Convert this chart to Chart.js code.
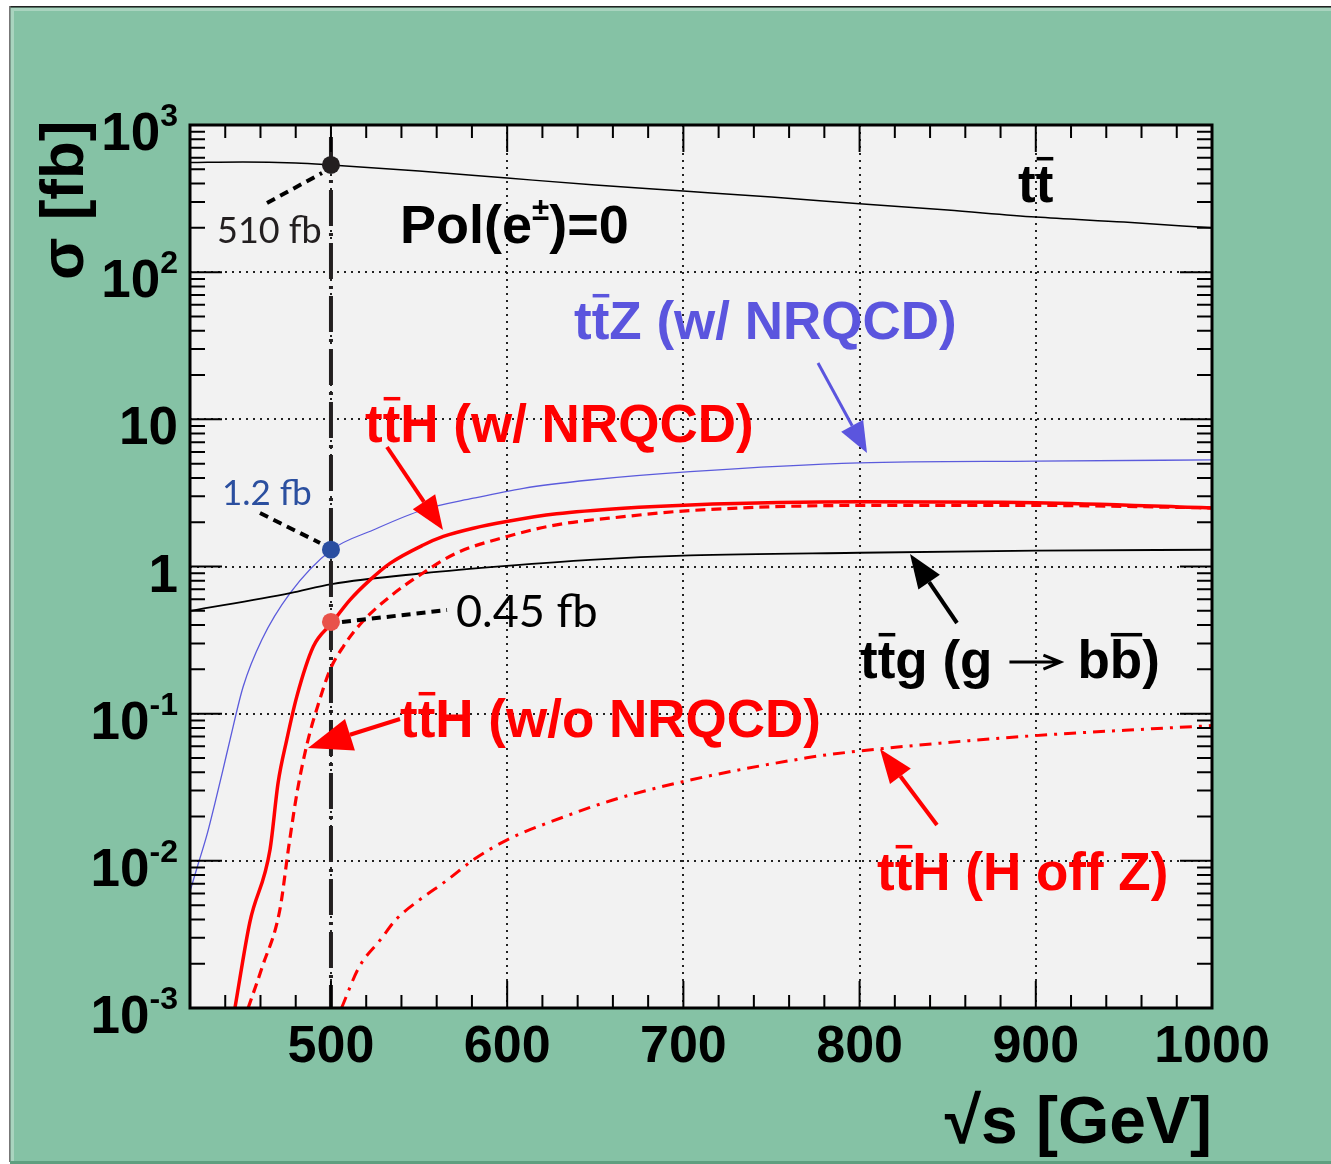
<!DOCTYPE html>
<html>
<head>
<meta charset="utf-8">
<script src="https://cdn.jsdelivr.net/npm/chart.js@4.4.0/dist/chart.umd.min.js"></script>
<style>
  html, body { margin: 0; padding: 0; background: #ffffff; }
  canvas { display: block; }
</style>
</head>
<body>
<canvas id="xsecChart" width="1331" height="1164"></canvas>
<script>
// sqrt(s) [GeV] and cross sections [fb]
const ttEnergy = [420, 450, 480, 500, 550, 600, 650, 700, 750, 800, 850, 900, 950, 1000];
const ttXsec = [556, 561, 552, 535, 487, 436, 391, 356, 324, 292, 264, 237, 219, 200];

const ttzEnergy = [420, 424.5, 429.6, 434.2, 438.7, 442.7, 450.2, 460.7, 476.8, 500.4, 524, 552.4, 580.8, 609.2, 647, 703.8, 800, 900, 1000];
const ttzXsec = [0.0062, 0.0094, 0.015, 0.0248, 0.0415, 0.0664, 0.153, 0.317, 0.659, 1.30, 1.77, 2.43, 2.91, 3.40, 3.87, 4.41, 5.06, 5.2, 5.3];

const tthEnergy = [445.5, 454, 465.4, 470, 474.9, 480.6, 490, 500.4, 510.8, 522.2, 533.5, 552.4, 563.8, 580.8, 599.7, 628.1, 665.9, 703.8, 800, 900, 1000];
const tthXsec = [0.001, 0.00385, 0.0119, 0.0339, 0.0664, 0.1306, 0.286, 0.412, 0.593, 0.811, 1.05, 1.40, 1.60, 1.82, 2.02, 2.28, 2.49, 2.62, 2.75, 2.71, 2.50];

const tthNoNrqcdEnergy = [453, 461, 471, 476, 481, 487, 493, 499.5, 507, 518, 533.5, 552, 571, 600, 628, 666, 704, 800, 900, 1000];
const tthNoNrqcdXsec = [0.001, 0.0019, 0.00465, 0.0124, 0.0303, 0.0664, 0.118, 0.199, 0.286, 0.423, 0.625, 0.90, 1.23, 1.60, 1.92, 2.18, 2.40, 2.60, 2.60, 2.50];

const tthOffZEnergy = [506, 516, 528, 537, 550, 566, 581, 600, 623, 670, 770, 812, 898, 1000];
const tthOffZXsec = [0.001, 0.0019, 0.0029, 0.0040, 0.0054, 0.0074, 0.0102, 0.0139, 0.0181, 0.0281, 0.0501, 0.0577, 0.0707, 0.083];

const ttgEnergy = [420, 476.8, 500.4, 552.4, 599.7, 647, 703.8, 800, 900, 1000];
const ttgXsec = [0.50, 0.66, 0.76, 0.90, 1.01, 1.11, 1.19, 1.24, 1.28, 1.30];

// highlighted working point at 500 GeV (tt, ttZ, ttH)
const markerEnergy = 500;
const markerXsec = [535, 1.3, 0.42];
const markerSpan = [830, 0.001];

const xMajorTicks = [500, 600, 700, 800, 900, 1000];
const yDecades = [0.001, 0.01, 0.1, 1, 10, 100, 1000];
const yTickLabels = [['10', '-3'], ['10', '-2'], ['10', '-1'], ['1', ''], ['10', ''], ['10', '2'], ['10', '3']];

const toPoints = (xs, ys) => xs.map((x, i) => ({ x: x, y: ys[i] }));

const BOLD = '"Liberation Sans", Arial, Helvetica, sans-serif';
const THIN = 'Lato, "Open Sans", sans-serif';
const RED = '#ff0000';
const BLUE = '#5b55de';
const INK = '#231f20';

// text with optional overbar / superscript / arrow pieces
function drawRich(ctx, x, y, parts, size, color) {
    let cx = x;
    ctx.fillStyle = color;
    ctx.strokeStyle = color;
    ctx.textAlign = 'left';
    ctx.textBaseline = 'alphabetic';
    parts.forEach(p => {
        if (p.arrow) {
            const ay = y - size * 0.3;
            ctx.lineWidth = 3;
            ctx.beginPath();
            ctx.moveTo(cx + p.pad, ay);
            ctx.lineTo(cx + p.arrow - p.pad, ay);
            ctx.moveTo(cx + p.arrow - p.pad - 17, ay - 7);
            ctx.lineTo(cx + p.arrow - p.pad, ay);
            ctx.lineTo(cx + p.arrow - p.pad - 17, ay + 7);
            ctx.stroke();
            cx += p.arrow;
            return;
        }
        const fs = p.sup ? size * 0.58 : size;
        ctx.font = 'bold ' + fs + 'px ' + BOLD;
        const w = ctx.measureText(p.t).width;
        ctx.fillText(p.t, cx, p.sup ? y - size * 0.42 : y);
        if (p.bar) ctx.fillRect(cx + 1, y - size * 0.85, w - 1, 3.5);
        cx += w;
    });
}

function arrow(ctx, x1, y1, x2, y2, color, lw, headLen, headW) {
    const a = Math.atan2(y2 - y1, x2 - x1);
    const bx = x2 - headLen * Math.cos(a);
    const by = y2 - headLen * Math.sin(a);
    ctx.strokeStyle = color;
    ctx.fillStyle = color;
    ctx.lineWidth = lw;
    ctx.setLineDash([]);
    ctx.beginPath();
    ctx.moveTo(x1, y1);
    ctx.lineTo(bx, by);
    ctx.stroke();
    ctx.beginPath();
    ctx.moveTo(x2, y2);
    ctx.lineTo(bx + headW / 2 * Math.sin(a), by - headW / 2 * Math.cos(a));
    ctx.lineTo(bx - headW / 2 * Math.sin(a), by + headW / 2 * Math.cos(a));
    ctx.closePath();
    ctx.fill();
}

function dashedLeader(ctx, x1, y1, x2, y2) {
    ctx.strokeStyle = '#000';
    ctx.lineWidth = 4;
    ctx.setLineDash([9, 6]);
    ctx.beginPath();
    ctx.moveTo(x1, y1);
    ctx.lineTo(x2, y2);
    ctx.stroke();
    ctx.setLineDash([]);
}

const framePlugin = {
    id: 'frame',
    beforeDraw(chart) {
        const ctx = chart.ctx;
        const a = chart.chartArea;
        ctx.save();
        ctx.fillStyle = '#ffffff';
        ctx.fillRect(0, 0, chart.width, chart.height);
        ctx.fillStyle = '#85c2a5';
        ctx.fillRect(10, 7, chart.width - 10, chart.height - 9);
        ctx.fillStyle = '#a9d4bf';
        ctx.fillRect(11, 8, chart.width - 11, 3);
        ctx.fillRect(11, 8, 3, chart.height - 10);
        ctx.fillStyle = '#222';
        ctx.fillRect(10, 6, chart.width - 10, 1.5);
        ctx.fillStyle = '#777';
        ctx.fillRect(9, 6, 1.5, chart.height - 8);
        ctx.fillStyle = '#5e9f7f';
        ctx.fillRect(10, chart.height - 3, chart.width - 10, 3);
        ctx.fillStyle = '#f2f2f2';
        ctx.fillRect(a.left, a.top, a.right - a.left, a.bottom - a.top);
        ctx.restore();
    },
    afterDatasetsDraw(chart) {
        const ctx = chart.ctx;
        const a = chart.chartArea;
        const xs = chart.scales.x;
        const ys = chart.scales.y;
        ctx.save();

        // ticks on all four sides
        ctx.strokeStyle = '#000';
        ctx.lineWidth = 2;
        ctx.beginPath();
        for (let e = 440; e <= 1000; e += 20) {
            const px = xs.getPixelForValue(e);
            const len = e % 100 === 0 ? 27 : 13;
            ctx.moveTo(px, a.bottom); ctx.lineTo(px, a.bottom - len);
            ctx.moveTo(px, a.top); ctx.lineTo(px, a.top + len);
        }
        yDecades.forEach(d => {
            for (let k = 1; k <= 9; k++) {
                const v = d * k;
                if (v > 1000) break;
                const py = ys.getPixelForValue(v);
                const len = k === 1 ? 32 : 15;
                ctx.moveTo(a.left, py); ctx.lineTo(a.left + len, py);
                ctx.moveTo(a.right, py); ctx.lineTo(a.right - len, py);
            }
        });
        ctx.stroke();

        // frame
        ctx.lineWidth = 3;
        ctx.strokeRect(a.left, a.top, a.right - a.left, a.bottom - a.top);

        // x tick labels
        ctx.fillStyle = '#000';
        ctx.font = 'bold 52px ' + BOLD;
        ctx.textAlign = 'center';
        ctx.textBaseline = 'alphabetic';
        xMajorTicks.forEach(v => ctx.fillText(String(v), xs.getPixelForValue(v), 1062));

        // y tick labels with superscript exponents
        yDecades.forEach((v, i) => {
            const py = ys.getPixelForValue(v);
            const [base, exp] = yTickLabels[i];
            ctx.textAlign = 'left';
            ctx.font = 'bold 32px ' + BOLD;
            const we = exp ? ctx.measureText(exp).width : 0;
            ctx.font = 'bold 53px ' + BOLD;
            const wb = ctx.measureText(base).width;
            const right = 178;
            ctx.fillText(base, right - we - wb, py + 25);
            if (exp) {
                ctx.font = 'bold 32px ' + BOLD;
                ctx.fillText(exp, right - we, py + 1);
            }
        });

        // axis titles
        ctx.font = 'bold 66px ' + BOLD;
        ctx.textAlign = 'right';
        ctx.fillText('\u221As [GeV]', a.right, 1143);
        ctx.save();
        ctx.translate(83, 280);
        ctx.rotate(-Math.PI / 2);
        ctx.textAlign = 'left';
        ctx.font = 'bold 62px ' + BOLD;
        ctx.fillText('\u03C3 [fb]', 0, 0);
        ctx.restore();

        // value call-outs
        dashedLeader(ctx, 267, 203, 322, 173);
        dashedLeader(ctx, 260, 513, 320, 543);
        dashedLeader(ctx, 342, 622, 447, 610);
        ctx.textAlign = 'left';
        ctx.font = '36px ' + THIN;
        ctx.fillStyle = INK;
        ctx.fillText('510 fb', 217, 243);
        ctx.fillStyle = '#2b4f9f';
        ctx.font = '35px ' + THIN;
        ctx.fillText('1.2 fb', 222, 505);
        ctx.fillStyle = '#000';
        ctx.font = '45px ' + THIN;
        ctx.fillText('0.45 fb', 456, 627);

        // process labels
        drawRich(ctx, 400, 243, [{ t: 'Pol(e' }, { t: '\u00B1', sup: true }, { t: ')=0' }], 54, '#000');
        drawRich(ctx, 1018, 202, [{ t: 't' }, { t: 't', bar: true }], 53, '#000');
        drawRich(ctx, 574, 339, [{ t: 't' }, { t: 't', bar: true }, { t: 'Z (w/ NRQCD)' }], 53, BLUE);
        drawRich(ctx, 365, 442, [{ t: 't' }, { t: 't', bar: true }, { t: 'H (w/ NRQCD)' }], 53, RED);
        drawRich(ctx, 400, 737, [{ t: 't' }, { t: 't', bar: true }, { t: 'H (w/o NRQCD)' }], 53, RED);
        drawRich(ctx, 860, 678, [{ t: 't' }, { t: 't', bar: true }, { t: 'g (g' }, { arrow: 85, pad: 17 }, { t: 'b' }, { t: 'b', bar: true }, { t: ')' }], 53, '#000');
        drawRich(ctx, 877, 890, [{ t: 't' }, { t: 't', bar: true }, { t: 'H (H off Z)' }], 53, RED);

        // pointer arrows
        arrow(ctx, 818, 363, 867, 453, BLUE, 3, 31, 25);
        arrow(ctx, 387, 447, 443, 530, RED, 4, 34, 27);
        arrow(ctx, 400, 719, 308, 748, RED, 4, 44, 33);
        arrow(ctx, 957, 623, 910, 554, '#000', 4, 34, 26);
        arrow(ctx, 937, 825, 880, 749, RED, 4, 34, 26);

        ctx.restore();
    }
};

const lineStyle = {
    pointRadius: 0,
    fill: false,
    cubicInterpolationMode: 'monotone',
    clip: 0
};

new Chart(document.getElementById('xsecChart').getContext('2d'), {
    type: 'line',
    data: {
        datasets: [
            { ...lineStyle, label: 'tt', data: toPoints(ttEnergy, ttXsec), borderColor: '#000', borderWidth: 1.5, order: 9 },
            { ...lineStyle, label: 'ttZ', data: toPoints(ttzEnergy, ttzXsec), borderColor: '#5b5bdc', borderWidth: 1.3, order: 8 },
            { ...lineStyle, label: 'ttg', data: toPoints(ttgEnergy, ttgXsec), borderColor: '#000', borderWidth: 1.8, order: 7 },
            { ...lineStyle, label: 'ttH w/o NRQCD', data: toPoints(tthNoNrqcdEnergy, tthNoNrqcdXsec), borderColor: RED, borderWidth: 3.2, borderDash: [10, 6], order: 6 },
            { ...lineStyle, label: 'ttH H off Z', data: toPoints(tthOffZEnergy, tthOffZXsec), borderColor: RED, borderWidth: 3, borderDash: [12, 7, 3, 7], order: 5 },
            { ...lineStyle, label: 'ttH w/ NRQCD', data: toPoints(tthEnergy, tthXsec), borderColor: RED, borderWidth: 3.5, order: 4 },
            { ...lineStyle, label: '500 GeV', data: markerSpan.map(v => ({ x: markerEnergy, y: v })), borderColor: INK, borderWidth: 4, borderDash: [36, 7, 3, 7], tension: 0, cubicInterpolationMode: 'default', order: 3 },
            {
                label: 'markers', type: 'scatter', order: 1, clip: 0,
                data: markerXsec.map(v => ({ x: markerEnergy, y: v })),
                pointRadius: 9, pointBorderWidth: 0, showLine: false,
                pointBackgroundColor: [INK, '#2a4ea0', '#e8524a'],
                pointBorderColor: [INK, '#2a4ea0', '#e8524a']
            }
        ]
    },
    options: {
        responsive: false,
        animation: false,
        events: [],
        layout: { padding: { left: 190, top: 125, right: 119, bottom: 156 } },
        plugins: { legend: { display: false }, tooltip: { enabled: false } },
        scales: {
            x: {
                type: 'linear',
                min: 420,
                max: 1000,
                afterBuildTicks: s => { s.ticks = xMajorTicks.map(v => ({ value: v })); },
                ticks: { display: false },
                grid: { color: '#222', lineWidth: 2, drawTicks: false },
                border: { display: false, dash: [2, 5] }
            },
            y: {
                type: 'logarithmic',
                min: 0.001,
                max: 1000,
                afterBuildTicks: s => { s.ticks = yDecades.map(v => ({ value: v })); },
                ticks: { display: false },
                grid: { color: '#222', lineWidth: 2, drawTicks: false },
                border: { display: false, dash: [2, 5] }
            }
        }
    },
    plugins: [framePlugin]
});
</script>
</body>
</html>
